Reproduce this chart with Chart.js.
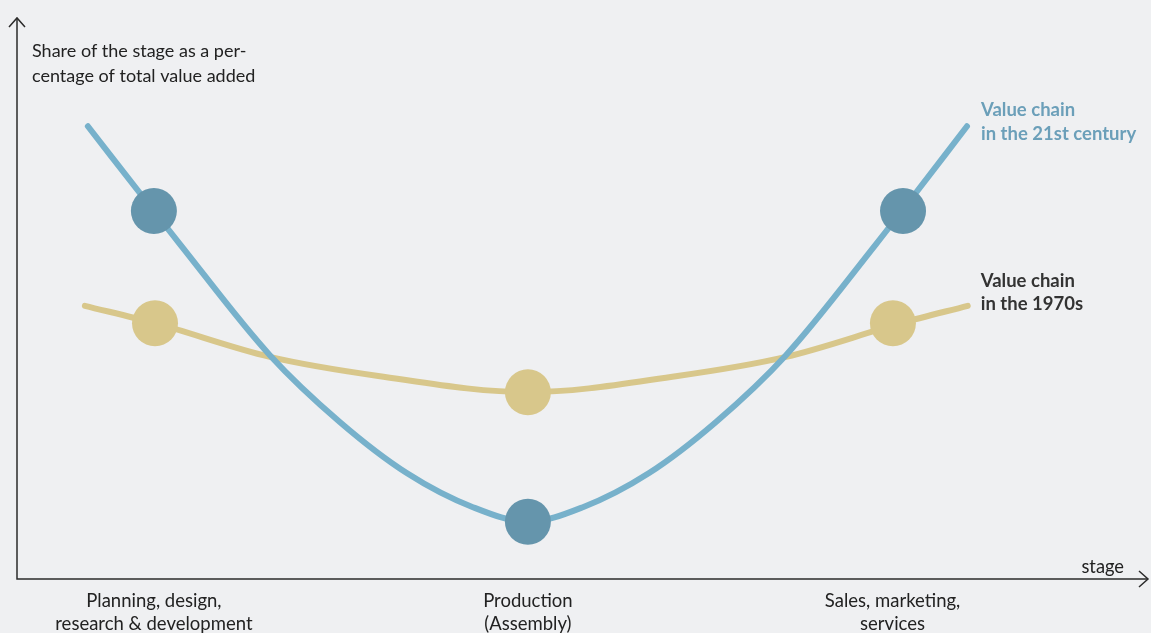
<!DOCTYPE html>
<html>
<head>
<meta charset="utf-8">
<script src="https://cdn.jsdelivr.net/npm/chart.js@4"></script>
<style>
  html, body { margin: 0; padding: 0; background: #eff0f2; }
  #wrap { width: 1151px; height: 633px; position: relative; }
</style>
</head>
<body>
<div id="wrap"><canvas id="c"></canvas></div>
<script>
// ---- data ----
const stageLabels = ['Planning, design,\nresearch & development', 'Production\n(Assembly)', 'Sales, marketing,\nservices'];
const stagePositions = [1.0, 2.0, 2.975];

const curve21X = [0.8235, 1.0, 1.0695, 1.310, 1.497, 1.676, 1.853, 2.0, 2.147, 2.324, 2.503, 2.690, 2.931, 3.0, 3.174];
const curve21Y = [80.7, 65.6, 59.7, 39.9, 28.0, 18.9, 12.8, 10.2, 12.8, 18.9, 28.0, 39.9, 59.7, 65.6, 80.7];
const dots21X = [1.0, 2.0, 3.003];
const dots21Y = [65.6, 10.2, 65.6];

const curve70X = [0.8155, 1.003, 1.310, 1.600, 2.0, 2.400, 2.690, 2.997, 3.176];
const curve70Y = [48.7, 45.6, 39.6, 36.2, 33.3, 36.2, 39.6, 45.6, 48.7];
const dots70X = [1.003, 2.0, 2.976];
const dots70Y = [45.6, 33.3, 45.6];

const yTitle = ['Share of the stage as a per-', 'centage of total value added'];
const xTitle = 'stage';
const label21 = ['Value chain', 'in the 21st century'];
const label70 = ['Value chain', 'in the 1970s'];

const zip = (xs, ys) => xs.map((x, i) => ({ x, y: ys[i] }));

const FONT = 'Lato, "Noto Sans", sans-serif';
const axisColor = '#2b2b2b';

const decorPlugin = {
  id: 'decor',
  afterDraw(chart) {
    const ctx = chart.ctx;
    const a = chart.chartArea;
    const xs = chart.scales.x, ys = chart.scales.y;
    ctx.save();
    // axes with arrows
    ctx.strokeStyle = axisColor;
    ctx.lineWidth = 1.5;
    ctx.beginPath();
    ctx.moveTo(a.left, a.top);
    ctx.lineTo(a.left, a.bottom);
    ctx.lineTo(a.right, a.bottom);
    ctx.stroke();
    ctx.beginPath();
    ctx.moveTo(a.left - 8, a.top + 9);
    ctx.lineTo(a.left, a.top);
    ctx.lineTo(a.left + 8, a.top + 9);
    ctx.moveTo(a.right - 9, a.bottom - 8);
    ctx.lineTo(a.right, a.bottom);
    ctx.lineTo(a.right - 9, a.bottom + 8);
    ctx.stroke();

    // y title
    ctx.fillStyle = '#222';
    ctx.font = '18px ' + FONT;
    ctx.textAlign = 'left';
    ctx.textBaseline = 'alphabetic';
    ctx.fillText(yTitle[0], a.left + 15, a.top + 39);
    ctx.fillText(yTitle[1], a.left + 15, a.top + 64);

    // x title
    ctx.font = '18.3px ' + FONT;
    ctx.textAlign = 'right';
    ctx.fillText(xTitle, a.right - 24, a.bottom - 6);

    // series labels next to the curve ends
    ctx.textAlign = 'left';
    ctx.font = 'bold 18.5px ' + FONT;
    const e21x = xs.getPixelForValue(curve21X[curve21X.length - 1]);
    const e21y = ys.getPixelForValue(curve21Y[curve21Y.length - 1]);
    ctx.fillStyle = '#6b9fb9';
    ctx.fillText(label21[0], e21x + 14, e21y - 10);
    ctx.fillText(label21[1], e21x + 14, e21y + 14);
    const e70x = xs.getPixelForValue(curve70X[curve70X.length - 1]);
    const e70y = ys.getPixelForValue(curve70Y[curve70Y.length - 1]);
    ctx.fillStyle = '#333';
    ctx.fillText(label70[0], e70x + 13, e70y - 19);
    ctx.fillText(label70[1], e70x + 13, e70y + 4);
    ctx.restore();
  }
};

new Chart(document.getElementById('c'), {
  type: 'scatter',
  data: {
    datasets: [
      {
        label: 'Value chain in the 1970s',
        order: 3,
        data: zip(curve70X, curve70Y),
        showLine: true,
        borderColor: '#d8c78b',
        borderWidth: 6,
        borderCapStyle: 'round',
        cubicInterpolationMode: 'monotone',
        pointRadius: 0,
        pointHoverRadius: 0
      },
      {
        label: 'Value chain in the 21st century',
        order: 2,
        data: zip(curve21X, curve21Y),
        showLine: true,
        borderColor: '#77b1cb',
        borderWidth: 6,
        borderCapStyle: 'round',
        cubicInterpolationMode: 'monotone',
        pointRadius: 0,
        pointHoverRadius: 0
      },
      {
        label: '1970s stages',
        order: 1,
        data: zip(dots70X, dots70Y),
        showLine: false,
        pointRadius: 23,
        pointHoverRadius: 23,
        pointBackgroundColor: '#d8c78b',
        pointBorderWidth: 0,
        borderWidth: 0
      },
      {
        label: '21st century stages',
        order: 0,
        data: zip(dots21X, dots21Y),
        showLine: false,
        pointRadius: 23,
        pointHoverRadius: 23,
        pointBackgroundColor: '#6595ac',
        pointBorderWidth: 0,
        borderWidth: 0
      }
    ]
  },
  options: {
    responsive: true,
    maintainAspectRatio: false,
    animation: false,
    events: [],
    layout: { autoPadding: false, padding: { left: 17, right: 3, top: 18, bottom: 0 } },
    plugins: { legend: { display: false }, tooltip: { enabled: false } },
    scales: {
      x: {
        type: 'linear',
        min: 0.634,
        max: 3.658,
        grid: { display: false, drawTicks: false },
        border: { display: false },
        afterBuildTicks: (s) => { s.ticks = stagePositions.map(v => ({ value: v })); },
        afterFit: (s) => { s.height = 54; },
        ticks: {
          autoSkip: false,
          maxRotation: 0,
          padding: 10,
          color: '#222',
          font: { family: FONT, size: 18.5, lineHeight: 1.25 },
          callback: (v, i) => stageLabels[i].split('\n')
        }
      },
      y: {
        display: false,
        min: 0,
        max: 100
      }
    }
  },
  plugins: [decorPlugin]
});
</script>
</body>
</html>
